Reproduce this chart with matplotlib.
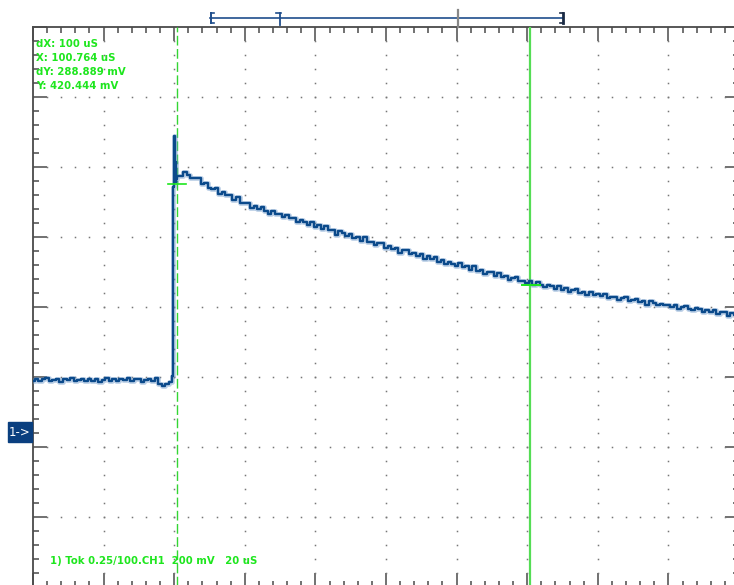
import numpy as np
import matplotlib
matplotlib.use("Agg")
from matplotlib import pyplot as plt
from matplotlib.patches import Rectangle

# scope settings / readouts
volts_per_div = 200      # mV
time_per_div = 20        # uS
cursor_x1 = 0.764        # uS
cursor_dx = 100.0        # uS
cursor_y2 = 420.444      # mV
cursor_dy = 288.889      # mV
readout = ["dX: 100 uS", "X: 100.764 uS", "dY: 288.889 mV", "Y: 420.444 mV"]
footer = "1) Tok 0.25/100.CH1  200 mV   20 uS"

# trace (time in uS, level in mV)
t_pre = np.arange(-40, 0, 1.0)[:39]
v_pre = [147, 151, 145, 150, 153, 146, 149, 152, 144, 150,
         148, 154, 146, 149, 151, 145, 152, 147, 150, 143,
         149, 153, 147, 150, 145, 151, 148, 155, 146, 150,
         152, 144, 149, 151, 146, 153, 138, 130, 136]
t_edge = [-0.8, -0.5, -0.3, -0.1, 0.1, 0.3, 0.5, 0.7]
v_edge = [142, 160, 420, 700, 845, 770, 715, 722]
t_post = np.arange(1, 161, 1.0)
v_post = [732, 732, 743, 734, 725, 727, 727, 709, 710, 696,
          695, 697, 680, 685, 677, 678, 663, 671, 654, 653,
          654, 640, 645, 637, 643, 632, 622, 631, 624, 624,
          614, 621, 610, 612, 599, 607, 600, 591, 601, 587,
          590, 579, 588, 576, 576, 564, 573, 568, 559, 566,
          554, 558, 545, 557, 543, 543, 534, 539, 539, 526,
          532, 523, 526, 512, 519, 520, 508, 510, 503, 509,
          495, 502, 495, 500, 487, 490, 481, 487, 481, 475,
          482, 470, 473, 463, 474, 461, 464, 452, 457, 457,
          447, 453, 444, 446, 434, 440, 442, 430, 432, 426,
          430, 421, 428, 420, 414, 420, 416, 409, 418, 407,
          411, 401, 406, 408, 397, 399, 391, 399, 391, 394,
          388, 393, 383, 386, 387, 377, 383, 385, 375, 376,
          379, 370, 373, 364, 374, 369, 362, 367, 362, 363,
          357, 362, 352, 358, 360, 351, 348, 353, 350, 342,
          349, 343, 349, 338, 342, 344, 332, 339, 333, 335]

t = np.concatenate([t_pre, t_edge, t_post])
v = np.concatenate([v_pre, v_edge, v_post])

W, H = 734, 585
fig = plt.figure(figsize=(W / 100, H / 100), dpi=100)
fig.patch.set_facecolor("white")

# screen: 10 x 8 divisions, ground marker 0 mV sits 5.786 div below top
y_top = 1157
ax = fig.add_axes([33 / W, 1 - 587 / H, 706 / W, 560 / H])
ax.set_xlim(-2 * time_per_div, 8 * time_per_div)
ax.set_ylim(y_top - 8 * volts_per_div, y_top)
ax.set_facecolor("white")

ax.set_xticks(np.arange(-40, 161, time_per_div))
ax.set_xticks(np.arange(-40, 161, time_per_div / 5), minor=True)
ax.set_yticks(np.arange(y_top - 8 * volts_per_div, y_top + 1, volts_per_div))
ax.set_yticks(np.arange(y_top - 8 * volts_per_div, y_top + 1, volts_per_div / 5), minor=True)
ax.tick_params(which="both", direction="in", top=True, right=True,
               labelbottom=False, labelleft=False, color="#4a4a4a", width=1.1)
ax.tick_params(which="major", length=10)
ax.tick_params(which="minor", length=4.5)
for s in ax.spines.values():
    s.set_color("#4a4a4a")
    s.set_linewidth(1.3)

# dotted graticule
xs_min = np.arange(-40, 161, time_per_div / 5)
ys_min = np.arange(y_top - 8 * volts_per_div, y_top + 1, volts_per_div / 5)
for xm in np.arange(-20, 160, time_per_div):
    ax.plot(np.full_like(ys_min, xm), ys_min, ls="none", marker="s", ms=1.1,
            color="#777777", mew=0)
for ym in np.arange(y_top - 7 * volts_per_div, y_top, volts_per_div):
    ax.plot(xs_min, np.full_like(xs_min, ym), ls="none", marker="s", ms=1.1,
            color="#777777", mew=0)

# cursors
green = "#1ee61e"
cursor_x2 = cursor_x1 + cursor_dx
ax.axvline(cursor_x1, color="#33d633", lw=1.0, ls=(0, (7, 2.5)), zorder=3)
ax.axvline(cursor_x2, color="#55dd55", lw=1.6, zorder=3)

# trace: soft band underneath, dark stepped line on top
ax.plot(t, v, color="#6a96c8", lw=3.4, alpha=0.45, zorder=4,
        drawstyle="steps-mid")
ax.plot(t, v, color="#0b4a8b", lw=1.7, zorder=4, drawstyle="steps-mid")

ax.plot([cursor_x1 - 2.6, cursor_x1 + 2.6], [cursor_y2 + cursor_dy] * 2,
        color=green, lw=1.2, zorder=5)
ax.plot([cursor_x2 - 2.2, cursor_x2 + 2.8], [cursor_y2] * 2,
        color=green, lw=1.4, zorder=5)

# overlay in screen pixels for annotations
ov = fig.add_axes([0, 0, 1, 1], facecolor="none")
ov.set_xlim(0, W)
ov.set_ylim(H, 0)
ov.axis("off")

for i, s in enumerate(readout):
    ov.text(36, 44 + 14 * i, s, color=green, fontsize=7.3, fontweight="bold",
            va="center", ha="left")
ov.text(50, 561, footer, color=green, fontsize=7.3, fontweight="bold",
        va="center", ha="left")

# ground marker
ov.add_patch(Rectangle((8, 422), 24, 20, color="#0a3f7f"))
ov.text(20, 432, "1->", color="white", fontsize=8.5, va="center", ha="center")

# record bar
bar = "#1f4e8c"
ov.plot([210, 563], [18, 18], color=bar, lw=1.2)
ov.plot([211, 211], [13, 23], color=bar, lw=1.4)
ov.plot([211, 214], [13, 13], color=bar, lw=1.2)
ov.plot([211, 214], [23, 23], color=bar, lw=1.2)
ov.plot([563, 563], [13, 23], color="#1a2a44", lw=2)
ov.plot([560, 563], [13, 13], color="#1a2a44", lw=1.2)
ov.plot([560, 563], [23, 23], color="#1a2a44", lw=1.2)
ov.plot([280, 280], [13, 25], color=bar, lw=1.3)
ov.plot([276, 281], [13, 13], color=bar, lw=1.2)
ov.plot([457.5, 457.5], [10, 27], color="#888888", lw=1.6)

fig.savefig("out.png", dpi=100)
